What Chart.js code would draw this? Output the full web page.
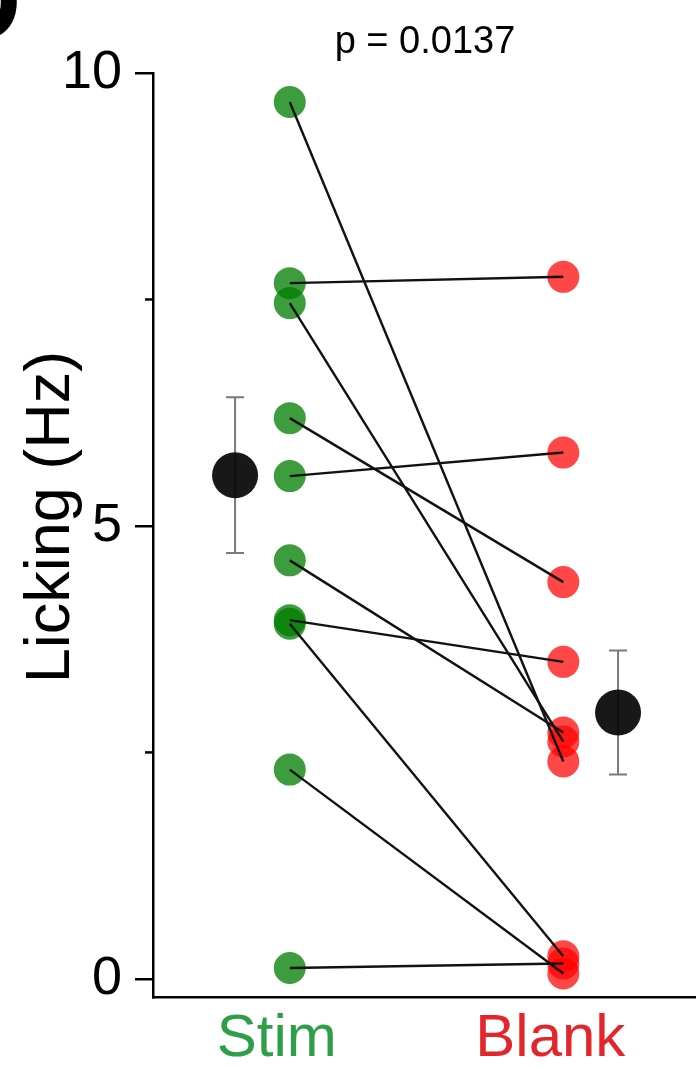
<!DOCTYPE html>
<html>
<head>
<meta charset="utf-8">
<script src="https://cdn.jsdelivr.net/npm/chart.js@4"></script>
<style>
  html, body { margin: 0; padding: 0; background: #fff; overflow: hidden; }
  #wrap { width: 696px; height: 1069px; position: relative; }
</style>
</head>
<body>
<div id="wrap"><canvas id="lickChart"></canvas></div>
<script>
// paired licking rates, one entry per animal (same index = same animal)
const groupLabels = ['Stim', 'Blank'];
const groupPos = [1, 2];
const stimVals = [9.68, 7.68, 7.46, 6.19, 5.55, 4.62, 3.96, 3.92, 2.31, 0.12];
const blankVals = [2.40, 7.75, 2.62, 4.38, 5.81, 2.72, 3.50, 0.25, 0.06, 0.17];

// group mean +/- error
const meanPos = [0.8, 2.2];
const meanVals = [5.56, 2.94];
const errVals = [0.86, 0.685];

const yMajorTicks = [0, 5, 10];
const yMinorTicks = [2.5, 7.5];
const pLabel = 'p = 0.0137';
const yTitle = 'Licking (Hz)';
const panelLetter = 'D';

const FONT = "'Liberation Sans', Helvetica, Arial, sans-serif";
const labelColors = ['#2f9e49', '#e2262c'];

const pairLines = stimVals.map((s, i) => ({
  type: 'scatter',
  data: [{ x: groupPos[0], y: s }, { x: groupPos[1], y: blankVals[i] }],
  showLine: true,
  borderColor: '#111',
  borderWidth: 2.4,
  pointRadius: 0,
  order: 1
}));

const extras = {
  id: 'extras',
  beforeDatasetsDraw(chart) {
    const { ctx, scales: { x, y } } = chart;
    ctx.save();
    ctx.strokeStyle = '#7a7a7a';
    ctx.lineWidth = 2;
    meanVals.forEach((m, i) => {
      const px = x.getPixelForValue(meanPos[i]);
      const top = y.getPixelForValue(m + errVals[i]);
      const bot = y.getPixelForValue(m - errVals[i]);
      ctx.beginPath();
      ctx.moveTo(px, top); ctx.lineTo(px, bot);
      ctx.moveTo(px - 9, top); ctx.lineTo(px + 9, top);
      ctx.moveTo(px - 9, bot); ctx.lineTo(px + 9, bot);
      ctx.stroke();
    });
    ctx.restore();
  },
  afterDraw(chart) {
    const { ctx, chartArea, scales: { y } } = chart;
    ctx.save();
    // minor ticks
    ctx.strokeStyle = '#000';
    ctx.lineWidth = 2.5;
    yMinorTicks.forEach(v => {
      const py = y.getPixelForValue(v);
      ctx.beginPath();
      ctx.moveTo(chartArea.left - 8, py);
      ctx.lineTo(chartArea.left, py);
      ctx.stroke();
    });
    ctx.fillStyle = '#000';
    // axis title
    ctx.save();
    ctx.translate(52, 517);
    ctx.rotate(-Math.PI / 2);
    ctx.font = '63px ' + FONT;
    ctx.textAlign = 'center';
    ctx.textBaseline = 'middle';
    ctx.fillText(yTitle, 0, 0);
    ctx.restore();
    // p value
    ctx.font = '38px ' + FONT;
    ctx.textAlign = 'center';
    ctx.textBaseline = 'alphabetic';
    ctx.fillText(pLabel, 425, 53);
    // panel letter
    ctx.font = 'bold 110px ' + FONT;
    ctx.textAlign = 'left';
    ctx.fillText(panelLetter, -58, 40);
    ctx.restore();
  }
};

new Chart(document.getElementById('lickChart'), {
  type: 'scatter',
  data: {
    datasets: [
      ...pairLines,
      {
        data: stimVals.map(v => ({ x: groupPos[0], y: v })),
        backgroundColor: 'rgba(0,125,0,0.76)',
        borderWidth: 0,
        pointRadius: 16,
        order: 2
      },
      {
        data: blankVals.map(v => ({ x: groupPos[1], y: v })),
        backgroundColor: 'rgba(255,0,0,0.72)',
        borderWidth: 0,
        pointRadius: 16,
        order: 2
      },
      {
        data: meanVals.map((v, i) => ({ x: meanPos[i], y: v })),
        backgroundColor: 'rgba(10,10,10,0.94)',
        borderWidth: 0,
        pointRadius: 23,
        order: 3
      }
    ]
  },
  options: {
    responsive: true,
    maintainAspectRatio: false,
    animation: false,
    clip: false,
    layout: { autoPadding: false, padding: { top: 73, left: 0, right: 0, bottom: 0 } },
    plugins: { legend: { display: false }, tooltip: { enabled: false } },
    scales: {
      x: {
        type: 'linear',
        min: 0.5,
        max: 2.485,
        afterFit: s => { s.height = 72; s.paddingRight = 0; s.paddingLeft = 0; },
        afterBuildTicks: s => { s.ticks = groupPos.map(v => ({ value: v })); },
        grid: { display: false, drawTicks: false },
        border: { display: true, color: '#000', width: 2.5 },
        ticks: {
          padding: 6,
          labelOffset: -13,
          maxRotation: 0,
          autoSkip: false,
          font: { family: FONT, size: 60 },
          color: ctx => labelColors[ctx.index],
          callback: (v, i) => groupLabels[i]
        }
      },
      y: {
        min: -0.2,
        max: 10,
        afterFit: s => { s.width = 153; },
        afterBuildTicks: s => { s.ticks = yMajorTicks.map(v => ({ value: v })); },
        grid: { drawOnChartArea: false, drawTicks: true, tickLength: 18, color: '#000', lineWidth: 2.5 },
        border: { display: true, color: '#000', width: 2.5 },
        ticks: {
          padding: 13,
          autoSkip: false,
          color: '#000',
          font: { family: FONT, size: 54 },
          callback: v => String(v)
        }
      }
    }
  },
  plugins: [extras]
});
</script>
</body>
</html>
